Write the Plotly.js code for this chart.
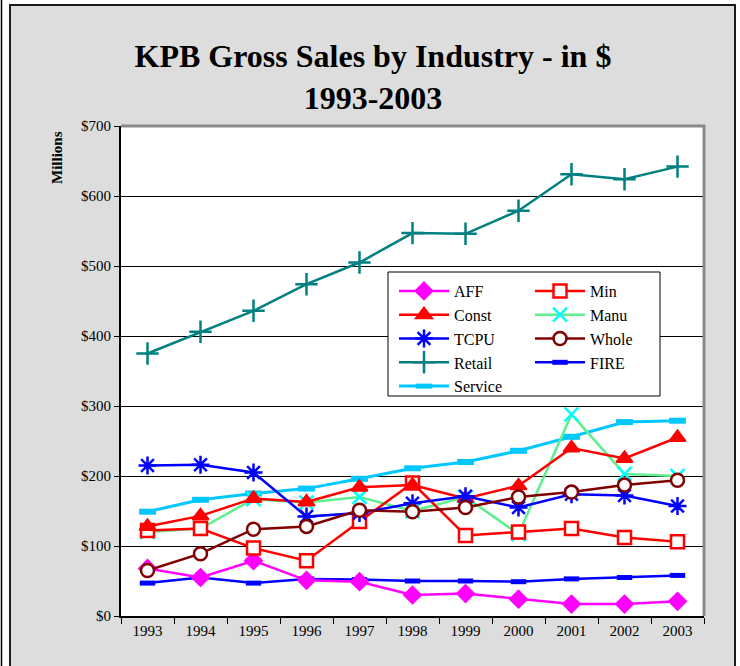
<!DOCTYPE html>
<html>
<head>
<meta charset="utf-8">
<script src="https://cdn.plot.ly/plotly-3.0.1.min.js"></script>
<style>html,body{margin:0;padding:0;background:#fff;}#chart{width:740px;height:666px;}</style>
</head>
<body>
<div id="chart"></div>
<script>
var years = ['1993','1994','1995','1996','1997','1998','1999','2000','2001','2002','2003'];
var aff     = [68, 55, 79, 51, 49, 30, 32, 24, 17, 17, 21];
var minSer  = [122, 125, 97, 79, 135, 190, 115, 120, 125, 112, 106];
var constr  = [128, 143, 168, 163, 184, 187, 168, 186, 240, 225, 255];
var manu    = [120, 125, 167, 162, 170, 150, 170, 117, 288, 203, 200];
var tcpu    = [215, 216, 205, 142, 147, 161, 171, 155, 174, 172, 157];
var whole   = [65, 89, 124, 128, 151, 149, 155, 170, 177, 187, 194];
var retail  = [375, 406, 436, 474, 505, 547, 546, 579, 631, 624, 642];
var fire    = [47, 55, 47, 53, 52, 50, 50, 49, 53, 55, 58];
var service = [149, 166, 175, 182, 196, 211, 220, 236, 256, 277, 279];
var yTicks  = [0, 100, 200, 300, 400, 500, 600, 700];
var yTickText = ['$0', '$100', '$200', '$300', '$400', '$500', '$600', '$700'];

var SERIF = 'Liberation Serif, Times New Roman, serif';

// plot area in px: left 121, right 704, top 126, bottom 616
function px(x){ return (x - 121) / 583; }
function py(y){ return (616 - y) / 490; }

function tr(name, y, color, sym, size, opts, legend){
  var m = {symbol: sym, size: size, color: color, line: {color: color, width: 2}};
  if (opts && opts.marker) m = Object.assign(m, opts.marker);
  return {
    x: years, y: y, name: name, type: 'scatter', mode: 'lines+markers',
    line: {color: (opts && opts.lineColor) || color, width: (opts && opts.lineWidth) || 2.5},
    marker: m, legend: legend, hoverinfo: 'x+y+name'
  };
}

var traces = [
  tr('Retail', retail, '#008080', 'cross-thin-open', 16, {marker:{line:{color:'#008080', width:2.5}}}, 'legend'),
  tr('FIRE', fire, '#0000ff', 'line-ew-open', 11, {marker:{line:{color:'#0000ff', width:5}}}, 'legend2'),
  tr('Service', service, '#00c8ff', 'line-ew-open', 12, {lineWidth: 3, marker:{line:{color:'#00c8ff', width:6}}}, 'legend'),
  tr('AFF', aff, '#ff00ff', 'diamond', 13, null, 'legend'),
  tr('Manu', manu, '#00ffff', 'x-thin-open', 14, {lineColor:'#5ef08f', marker:{line:{color:'#00ffff', width:2.5}}}, 'legend2'),
  tr('Min', minSer, '#ff0000', 'square', 13, {marker:{color:'#ffffff', line:{color:'#ff0000', width:2.5}}}, 'legend2'),
  tr('Const', constr, '#ff0000', 'triangle-up', 14, null, 'legend'),
  tr('TCPU', tcpu, '#0000ff', 'asterisk-open', 15, {marker:{line:{color:'#0000ff', width:2.5}}}, 'legend'),
  tr('Whole', whole, '#800000', 'circle', 13, {marker:{color:'#ffffff', line:{color:'#800000', width:2.5}}}, 'legend2')
];
var order = {AFF:1, Const:2, TCPU:3, Retail:4, Service:5, Min:1, Manu:2, Whole:3, FIRE:4};
traces.forEach(function(t){ t.legendrank = order[t.name]; });

var layout = {
  width: 740, height: 666,
  margin: {l: 121, r: 36, t: 126, b: 50, pad: 0},
  paper_bgcolor: '#ffffff',
  plot_bgcolor: 'rgba(0,0,0,0)',
  font: {family: SERIF, color: '#000000', size: 15},
  title: {
    text: '<b>KPB Gross Sales by Industry - in $</b><br><b>1993-2003</b>',
    font: {family: SERIF, size: 32, color: '#000000'},
    x: 0.504, xanchor: 'center', y: 0.8995, yanchor: 'middle'
  },
  xaxis: {
    type: 'category', range: [-0.5, 10.5],
    showline: true, linecolor: '#000000', linewidth: 2,
    ticks: 'outside', tickson: 'boundaries', ticklen: 6, tickcolor: '#000000', tickwidth: 1,
    showgrid: false, zeroline: false,
    tickfont: {family: SERIF, size: 15, color: '#000000'}, fixedrange: true
  },
  yaxis: {
    range: [0, 700], tickmode: 'array', tickvals: yTicks, ticktext: yTickText,
    showline: true, linecolor: '#000000', linewidth: 2,
    ticks: 'outside', ticklen: 5, tickcolor: '#000000', tickwidth: 1,
    showgrid: true, gridcolor: '#000000', gridwidth: 1, zeroline: false,
    tickfont: {family: SERIF, size: 15, color: '#000000'}, fixedrange: true
  },
  showlegend: true,
  legend: {
    x: px(394), y: py(274), xanchor: 'left', yanchor: 'top',
    bgcolor: 'rgba(0,0,0,0)', borderwidth: 0, itemwidth: 50,
    font: {family: SERIF, size: 16, color: '#000000'}, tracegroupgap: 0
  },
  legend2: {
    x: px(530), y: py(274), xanchor: 'left', yanchor: 'top',
    bgcolor: 'rgba(0,0,0,0)', borderwidth: 0, itemwidth: 50,
    font: {family: SERIF, size: 16, color: '#000000'}, tracegroupgap: 0
  },
  annotations: [{
    text: '<b>Millions</b>', xref: 'paper', yref: 'paper',
    x: px(57), y: py(158), xanchor: 'center', yanchor: 'middle',
    textangle: -90, showarrow: false,
    font: {family: SERIF, size: 15, color: '#000000'}
  }],
  shapes: [
    {type: 'rect', xref: 'paper', yref: 'paper', layer: 'below',
     x0: px(10), x1: px(735), y0: py(690), y1: py(5),
     fillcolor: '#dddddd', line: {color: '#1a1a1a', width: 2}},
    {type: 'line', xref: 'paper', yref: 'paper', layer: 'below',
     x0: px(1.5), x1: px(1.5), y0: py(700), y1: py(0),
     line: {color: '#000000', width: 1.5}},
    {type: 'rect', xref: 'paper', yref: 'paper', layer: 'below',
     x0: 0, x1: 1, y0: 0, y1: 1, fillcolor: '#ffffff', line: {width: 0}},
    {type: 'line', xref: 'paper', yref: 'paper', layer: 'above',
     x0: 0, x1: 1.002, y0: 1, y1: 1, line: {color: '#8a8a8a', width: 3}},
    {type: 'line', xref: 'paper', yref: 'paper', layer: 'above',
     x0: 1, x1: 1, y0: 0, y1: 1.002, line: {color: '#8a8a8a', width: 3}},
    {type: 'rect', xref: 'paper', yref: 'paper', layer: 'above',
     x0: px(388), x1: px(660), y0: py(396), y1: py(272),
     fillcolor: '#ffffff', line: {color: '#000000', width: 1}}
  ]
};

Plotly.newPlot('chart', traces, layout, {displayModeBar: false, staticPlot: true});
</script>
</body>
</html>
